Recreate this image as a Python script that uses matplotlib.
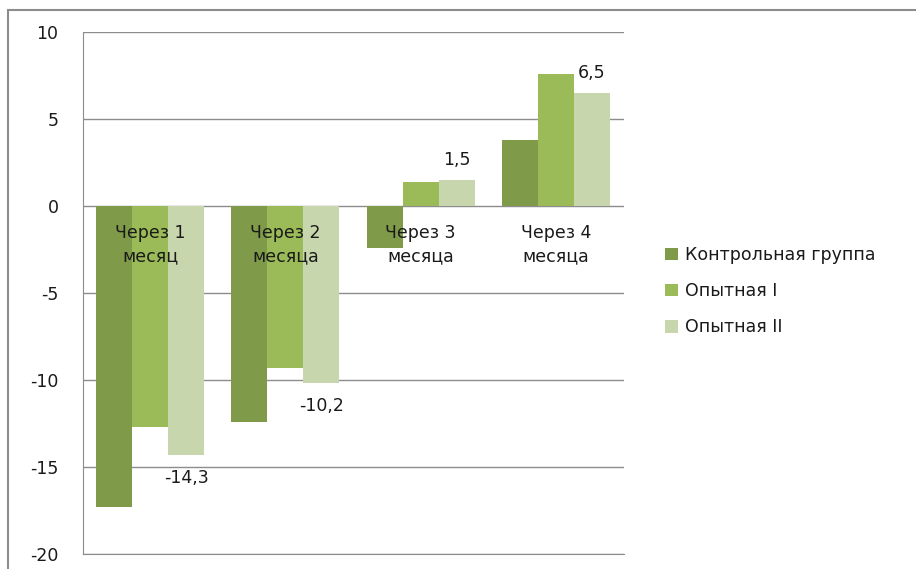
import numpy as np
import matplotlib.pyplot as plt
import matplotlib.patches as patches

plt.rcParams['font.family'] = ['DejaVu Sans']

# data
periods = ['Через 1\nмесяц', 'Через 2\nмесяца', 'Через 3\nмесяца', 'Через 4\nмесяца']
series_names = ['Контрольная группа', 'Опытная I', 'Опытная II']
control = [-17.3, -12.4, -2.4, 3.8]
exp1 = [-12.7, -9.3, 1.4, 7.6]
exp2 = [-14.3, -10.2, 1.5, 6.5]
colors = ['#7f9a48', '#9bbb59', '#c7d6ad']

yticks = [-20, -15, -10, -5, 0, 5, 10]

W, H = 916, 569
PX = 0.72  # points per pixel at dpi 100
FS = 12.5
TXT = '#1a1a1a'
GRID = '#8c8c8c'

fig = plt.figure(figsize=(W / 100, H / 100), dpi=100)
ax = fig.add_axes([82.5 / W, 1 - 554 / H, (623.5 - 82.5) / W, (554 - 32) / H])

# outer frame of the chart area
fig.patches.append(patches.Rectangle((8 / W, -0.1), 1.2, 1 - 10 / H + 0.1,
                                     transform=fig.transFigure, fill=False,
                                     edgecolor=GRID, linewidth=1.5))

x = np.arange(len(periods))
bw = 36 / 135.1
vals = [control, exp1, exp2]
for i, (name, v) in enumerate(zip(series_names, vals)):
    ax.bar(x + (i - 1) * bw, v, bw, color=colors[i], label=name, zorder=2)

# value labels for the last series
for xi, v in zip(x + bw, exp2):
    off = 20 if v > 0 else -23
    ax.annotate(str(v).replace('.', ','), (xi, v), xytext=(0, off * PX),
                textcoords='offset points', ha='center', va='center',
                fontsize=FS, color=TXT, zorder=5)

# category names sit just under the zero line
for xi, lab in zip(x, periods):
    ax.annotate(lab, (xi, 0), xytext=(0, -18 * PX), textcoords='offset points',
                ha='center', va='top', fontsize=FS, color=TXT,
                linespacing=1.35, zorder=6)

ax.set_xlim(-0.5, len(periods) - 0.5)
ax.set_ylim(-20, 10)
ax.set_yticks(yticks)
ax.set_yticklabels([str(t) for t in yticks], fontsize=FS, color=TXT)
ax.tick_params(axis='y', length=0, pad=24 * PX)
ax.set_xticks([])
ax.grid(axis='y', color=GRID, linewidth=1, zorder=0)
for side in ['top', 'right']:
    ax.spines[side].set_visible(False)
ax.spines['left'].set_color(GRID)
ax.spines['bottom'].set_color(GRID)

ax.legend(loc='upper left', bbox_to_anchor=(658 / W, 1 - 239 / H),
          bbox_transform=fig.transFigure, frameon=False, fontsize=FS,
          handlelength=0.75, handleheight=0.75, handletextpad=0.4,
          labelspacing=1.05, labelcolor=TXT, borderaxespad=0)

fig.savefig('out.png', dpi=100)
